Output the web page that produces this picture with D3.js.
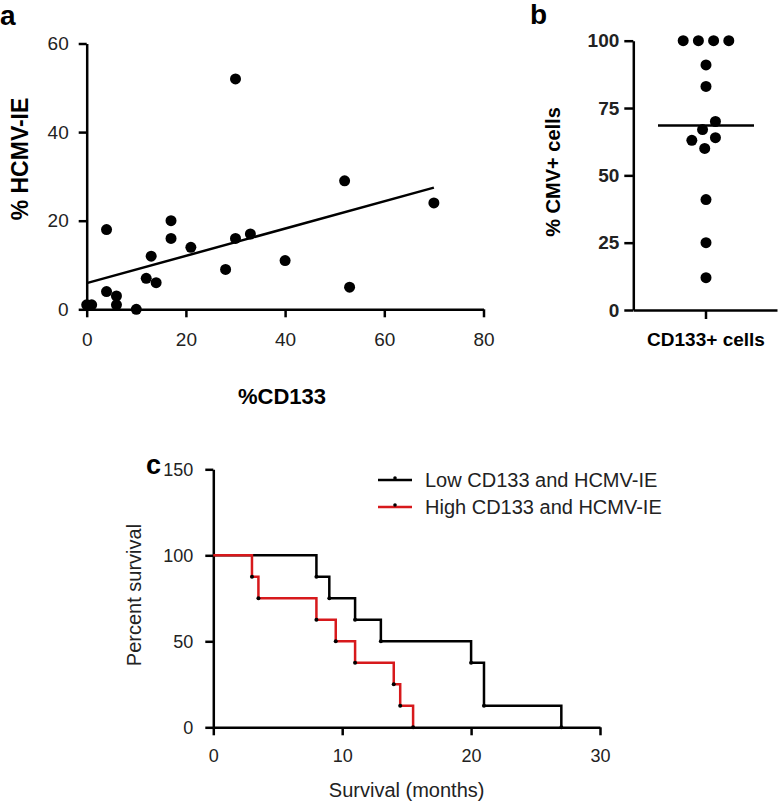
<!DOCTYPE html>
<html>
<head>
<meta charset="utf-8">
<script src="https://cdn.jsdelivr.net/npm/d3@7"></script>
<style>
  body { margin: 0; background: #fff; }
  svg { display: block; font-family: "Liberation Sans", Arial, sans-serif; }
  .axis path, .axis line { stroke: #000; stroke-width: 2.5px; }
  .axis text { fill: #222; }
</style>
</head>
<body>
<script>
// panel a: %CD133 vs %HCMV-IE per tumour
var cd133Pct = [0, 1, 4, 4, 6, 6, 10, 12, 13, 14, 17, 17, 21, 28, 30, 30, 33, 40, 52, 53, 70];
var hcmvPct  = [1, 1, 18, 4, 3, 1, 0, 7, 12, 6, 20, 16, 14, 9, 52, 16, 17, 11, 29, 5, 24];
var aXTicks = [0, 20, 40, 60, 80];
var aYTicks = [0, 20, 40, 60];

// panel b: % CMV+ cells among CD133+ cells
var cmvPos = [100, 100, 100, 100, 91, 83, 70, 67, 64, 63, 60, 41, 25, 12];
var bYTicks = [0, 25, 50, 75, 100];

// panel c: survival times (months), all events
var seriesNames = ["Low CD133 and HCMV-IE", "High CD133 and HCMV-IE"];
var seriesColors = ["#000000", "#d7191c"];
var lowTimes  = [8, 9, 11, 13, 20, 21, 21, 27];
var highTimes = [3, 3.5, 8, 9.5, 11, 14, 14.5, 15.5];
var cXTicks = [0, 10, 20, 30];
var cYTicks = [0, 50, 100, 150];

var svg = d3.select("body").append("svg").attr("width", 779).attr("height", 804);

function styleTicks(g, size, weight) {
  g.selectAll("text").style("font-size", size + "px").style("font-weight", weight);
}

// ---------- panel a ----------
var ax = d3.scaleLinear().domain([0, 80]).range([86.7, 483.5]);
var ay = d3.scaleLinear().domain([0, 60]).range([309.3, 43.5]);

var ga = svg.append("g");
ga.append("g").attr("class", "axis").attr("transform", "translate(0," + ay(0) + ")")
  .call(d3.axisBottom(ax).tickValues(aXTicks).tickSize(8).tickSizeOuter(0).tickPadding(15))
  .call(styleTicks, 19, "normal");
ga.append("g").attr("class", "axis").attr("transform", "translate(" + ax(0) + ",0)")
  .call(d3.axisLeft(ay).tickValues(aYTicks).tickSize(8).tickSizeOuter(0).tickPadding(10))
  .call(styleTicks, 19, "normal");

// least squares fit
var mx = d3.mean(cd133Pct), my = d3.mean(hcmvPct);
var sxy = d3.sum(cd133Pct, function (d, i) { return (d - mx) * (hcmvPct[i] - my); });
var sxx = d3.sum(cd133Pct, function (d) { return (d - mx) * (d - mx); });
var slope = sxy / sxx, icpt = my - slope * mx;
var xr = d3.extent(cd133Pct);
ga.append("line")
  .attr("x1", ax(xr[0])).attr("y1", ay(icpt + slope * xr[0]))
  .attr("x2", ax(xr[1])).attr("y2", ay(icpt + slope * xr[1]))
  .attr("stroke", "#000").attr("stroke-width", 2.5);

ga.selectAll("circle.pa").data(cd133Pct).enter().append("circle")
  .attr("class", "pa")
  .attr("cx", function (d) { return ax(d); })
  .attr("cy", function (d, i) { return ay(hcmvPct[i]); })
  .attr("r", 5.5).attr("fill", "#000");

ga.append("text").attr("x", 0).attr("y", 25).text("a")
  .style("font-size", "28px").style("font-weight", "bold");
ga.append("text").attr("x", 282).attr("y", 404).attr("text-anchor", "middle").text("%CD133")
  .style("font-size", "22px").style("font-weight", "bold");
ga.append("text").attr("transform", "translate(28,159) rotate(-90)").attr("text-anchor", "middle")
  .text("% HCMV-IE").style("font-size", "23px").style("font-weight", "bold");

// ---------- panel b ----------
var by = d3.scaleLinear().domain([0, 100]).range([310, 40.7]);
var bx = d3.scaleLinear().domain([0, 1]).range([633.3, 777]);
var bCenter = 706;

var gb = svg.append("g");
gb.append("g").attr("class", "axis").attr("transform", "translate(0," + by(0) + ")")
  .call(d3.axisBottom(bx).tickValues([]).tickSizeOuter(0));
gb.append("line").attr("x1", bCenter).attr("x2", bCenter).attr("y1", by(0)).attr("y2", by(0) + 9)
  .attr("stroke", "#000").attr("stroke-width", 2.5);
gb.append("g").attr("class", "axis").attr("transform", "translate(" + bx(0) + ",0)")
  .call(d3.axisLeft(by).tickValues(bYTicks).tickSize(9).tickSizeOuter(0).tickPadding(5))
  .call(styleTicks, 19, "bold");

// column scatter spread with a collide force
var nodes = cmvPos.map(function (v, i) {
  return { v: v, x: bCenter + (i % 2 ? -1 : 1) * 0.5, fy: by(v) };
});
var sim = d3.forceSimulation(nodes)
  .force("x", d3.forceX(bCenter).strength(0.08))
  .force("collide", d3.forceCollide(7.6))
  .stop();
for (var k = 0; k < 300; k++) sim.tick();

gb.selectAll("circle.pb").data(nodes).enter().append("circle")
  .attr("class", "pb")
  .attr("cx", function (d) { return d.x; })
  .attr("cy", function (d) { return d.fy; })
  .attr("r", 5.5).attr("fill", "#000");

var med = d3.median(cmvPos);
gb.append("line").attr("x1", bCenter - 48).attr("x2", bCenter + 48)
  .attr("y1", by(med)).attr("y2", by(med))
  .attr("stroke", "#000").attr("stroke-width", 2.5);

gb.append("text").attr("x", 530).attr("y", 24).text("b")
  .style("font-size", "28px").style("font-weight", "bold");
gb.append("text").attr("x", bCenter).attr("y", 346).attr("text-anchor", "middle").text("CD133+ cells")
  .style("font-size", "19px").style("font-weight", "bold");
gb.append("text").attr("transform", "translate(560,172) rotate(-90)").attr("text-anchor", "middle")
  .text("% CMV+ cells").style("font-size", "20px").style("font-weight", "bold");

// ---------- panel c ----------
var cx = d3.scaleLinear().domain([0, 30]).range([213.3, 600]);
var cy = d3.scaleLinear().domain([0, 150]).range([727.3, 469.3]);

var gc = svg.append("g");
gc.append("g").attr("class", "axis").attr("transform", "translate(0," + cy(0) + ")")
  .call(d3.axisBottom(cx).tickValues(cXTicks).tickSize(8).tickSizeOuter(0).tickPadding(14))
  .call(styleTicks, 18, "normal");
gc.append("g").attr("class", "axis").attr("transform", "translate(" + cx(0) + ",0)")
  .call(d3.axisLeft(cy).tickValues(cYTicks).tickSize(8).tickSizeOuter(0).tickPadding(12))
  .call(styleTicks, 18, "normal");

// Kaplan-Meier steps from event times
function kmSteps(times) {
  var n = times.length, pts = [{ t: 0, s: 100 }], dead = 0;
  var uniq = Array.from(new Set(times)).sort(d3.ascending);
  uniq.forEach(function (t) {
    dead += times.filter(function (d) { return d === t; }).length;
    pts.push({ t: t, s: 100 * (n - dead) / n });
  });
  return pts;
}
var kmLine = d3.line()
  .x(function (d) { return cx(d.t); })
  .y(function (d) { return cy(d.s); })
  .curve(d3.curveStepAfter);

[lowTimes, highTimes].forEach(function (times, i) {
  var pts = kmSteps(times);
  gc.append("path").attr("d", kmLine(pts)).attr("fill", "none")
    .attr("stroke", seriesColors[i]).attr("stroke-width", 2.5);
  gc.selectAll("circle.ev" + i).data(pts.slice(1)).enter().append("circle")
    .attr("class", "ev" + i)
    .attr("cx", function (d) { return cx(d.t); })
    .attr("cy", function (d) { return cy(d.s); })
    .attr("r", 2).attr("fill", "#000");
});

// legend
seriesNames.forEach(function (name, i) {
  var y = 480 + i * 27;
  gc.append("line").attr("x1", 378).attr("x2", 412).attr("y1", y).attr("y2", y)
    .attr("stroke", seriesColors[i]).attr("stroke-width", 2.5);
  gc.append("circle").attr("cx", 395).attr("cy", y - 2).attr("r", 1.8).attr("fill", "#000");
  gc.append("text").attr("x", 425).attr("y", y + 7).text(name)
    .style("font-size", "20px").style("fill", "#222");
});

gc.append("text").attr("x", 146).attr("y", 474).text("c")
  .style("font-size", "27px").style("font-weight", "bold");
gc.append("text").attr("x", cx(15)).attr("y", 797).attr("text-anchor", "middle").text("Survival (months)")
  .style("font-size", "20px").style("fill", "#222");
gc.append("text").attr("transform", "translate(141,595) rotate(-90)").attr("text-anchor", "middle")
  .text("Percent survival").style("font-size", "20px").style("fill", "#222");
</script>
</body>
</html>
